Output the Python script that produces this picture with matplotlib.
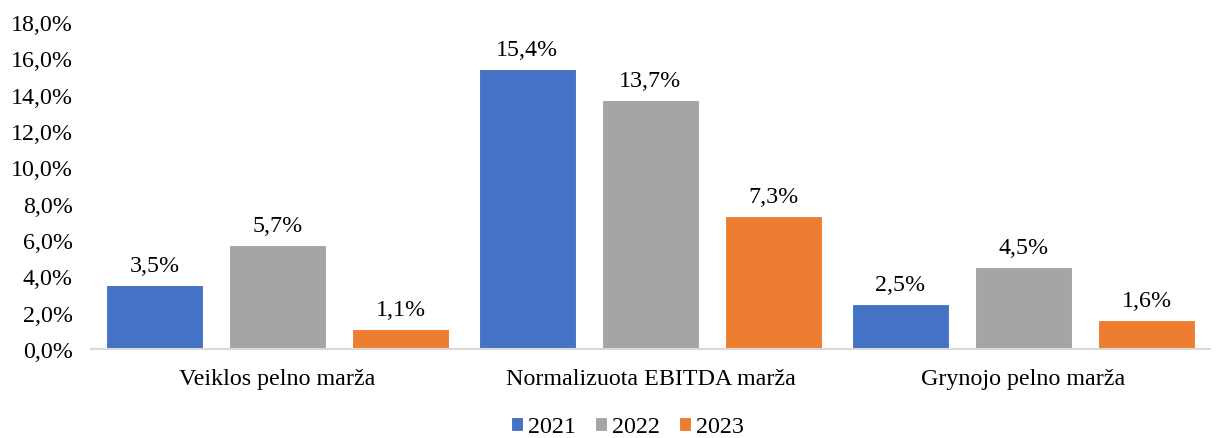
import numpy as np
import matplotlib.pyplot as plt

plt.rcParams["font.family"] = ["Liberation Serif", "DejaVu Serif"]

# Duomenys
kategorijos = ["Veiklos pelno marža", "Normalizuota EBITDA marža", "Grynojo pelno marža"]
metai = ["2021", "2022", "2023"]
v2021 = [3.5, 15.4, 2.5]
v2022 = [5.7, 13.7, 4.5]
v2023 = [1.1, 7.3, 1.6]
spalvos = ["#4472C4", "#A5A5A5", "#ED7D31"]

fs = 17.3

fig = plt.figure(figsize=(12.18, 4.39), dpi=100)
ax = fig.add_axes([0.0747, 0.2027, 0.9187, 0.745])

x = np.arange(len(kategorijos))
plotis = 0.26
poslinkis = 0.33
for i, (reiksmes, m, c) in enumerate(zip([v2021, v2022, v2023], metai, spalvos)):
    bars = ax.bar(x + (i - 1) * poslinkis, reiksmes, plotis, color=c, label=m,
                  edgecolor="white", linewidth=0.8)
    for b, v in zip(bars, reiksmes):
        ax.text(b.get_x() + b.get_width() / 2, v + 0.5, f"{v:.1f}%".replace(".", ","),
                ha="center", va="bottom", fontsize=fs)

ax.set_xlim(-0.5, 2.5)
ax.set_ylim(0, 18)
ax.set_yticks(np.arange(0, 18.1, 2))
ax.set_yticklabels([f"{t:.1f}%".replace(".", ",") for t in np.arange(0, 18.1, 2)], fontsize=fs)
ax.set_xticks(x)
ax.set_xticklabels(kategorijos, fontsize=fs)
ax.tick_params(axis="both", length=0)
ax.tick_params(axis="x", pad=14)
ax.tick_params(axis="y", pad=13)
for s in ["top", "right", "left"]:
    ax.spines[s].set_visible(False)
ax.spines["bottom"].set_color("#D9D9D9")
ax.spines["bottom"].set_linewidth(1.5)

h, l = ax.get_legend_handles_labels()
fig.legend(h, l, loc="center", bbox_to_anchor=(0.515, 1 - 428 / 439), ncol=3, frameon=False,
           fontsize=fs, handlelength=0.5, handleheight=0.5, handletextpad=0.2,
           columnspacing=0.8, borderaxespad=0, borderpad=0)

plt.savefig("out.png", dpi=100)
